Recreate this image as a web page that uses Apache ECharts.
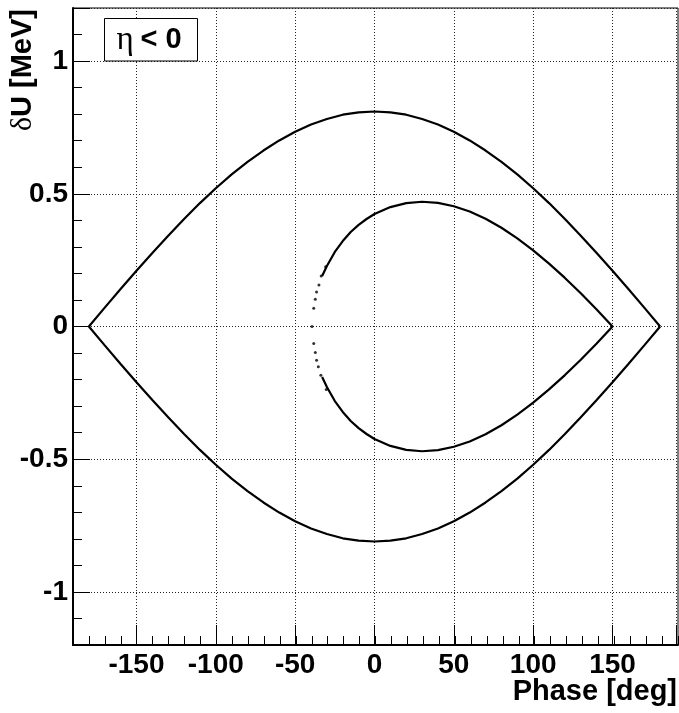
<!DOCTYPE html>
<html>
<head>
<meta charset="utf-8">
<script src="https://cdn.jsdelivr.net/npm/echarts@6/dist/echarts.min.js"></script>
<style>
html,body{margin:0;padding:0;background:#fff;}
#chart{width:679px;height:713px;}
</style>
</head>
<body>
<div id="chart"></div>
<script>
// ---- data ----
const outerPhase = [-180,-170,-160,-150,-140,-130,-120,-110,-100,-90,-80,-70,-60,-50,-40,-30,-20,-10,0,10,20,30,40,50,60,70,80,90,100,110,120,130,140,150,160,170,180];
const outerUpper = [0,0.071,0.141,0.21,0.277,0.342,0.405,0.465,0.521,0.573,0.62,0.663,0.701,0.734,0.761,0.782,0.798,0.807,0.81,0.807,0.798,0.782,0.761,0.734,0.701,0.663,0.62,0.573,0.521,0.465,0.405,0.342,0.277,0.21,0.141,0.071,0];
const outerLower = [0,-0.071,-0.141,-0.21,-0.277,-0.342,-0.405,-0.465,-0.521,-0.573,-0.62,-0.663,-0.701,-0.734,-0.761,-0.782,-0.798,-0.807,-0.81,-0.807,-0.798,-0.782,-0.761,-0.734,-0.701,-0.663,-0.62,-0.573,-0.521,-0.465,-0.405,-0.342,-0.277,-0.21,-0.141,-0.071,0];

const innerPhase = [-33,-30,-25,-20,-15,-10,-5,0,10,20,30,40,50,60,70,80,90,100,110,120,130,140,150];
const innerUpper = [0.19,0.228,0.281,0.322,0.356,0.383,0.405,0.424,0.45,0.465,0.47,0.466,0.453,0.433,0.406,0.372,0.332,0.287,0.237,0.183,0.125,0.064,0];
const innerLower = [-0.19,-0.228,-0.281,-0.322,-0.356,-0.383,-0.405,-0.424,-0.45,-0.465,-0.47,-0.466,-0.453,-0.433,-0.406,-0.372,-0.332,-0.287,-0.237,-0.183,-0.125,-0.064,0];

const tipPhase = [-30.8,-33.6,-35.0,-36.5,-37.3,-38.3,-39.4,-38.3,-37.3,-36.5,-35.4,-33.8,-30.4];
const tipU = [0.225,0.19,0.156,0.130,0.103,0.069,0,-0.064,-0.098,-0.127,-0.152,-0.184,-0.237];

const xMajorTicks = [-150,-100,-50,0,50,100,150];
const yMajorTicks = [-1,-0.5,0,0.5,1];

const xTitle = 'Phase [deg]';
const yTitleGreek = 'δ';
const yTitleRest = 'U [MeV]';
const legendGreek = 'η';
const legendRest = '< 0';

// ---- build ----
function zip(a, b) { return a.map((v, i) => [v, b[i]]); }

const FONT = 'Liberation Sans';
const grids = [
  {left:73, right:1, top:8, bottom:68, show:true, borderColor:'#000', borderWidth:1, backgroundColor:'transparent'},
  {left:73, right:1, top:8, bottom:68, show:false}
];

const chart = echarts.init(document.getElementById('chart'), null, {renderer:'canvas'});
const lineCommon = {type:'line', xAxisIndex:1, yAxisIndex:1, showSymbol:false, symbol:'none',
  lineStyle:{color:'#000', width:2.2}, z:5, animation:false};
const gridLine = {show:true, lineStyle:{color:'#222', width:1, type:[1,2]}};

chart.setOption({
  animation:false,
  backgroundColor:'#fff',
  grid: grids,
  xAxis: [
    {gridIndex:0, type:'value', min:-190, max:190, interval:10, position:'bottom',
      axisLine:{show:true, onZero:false, lineStyle:{color:'#000', width:2}},
      axisTick:{show:true, inside:true, length:9, lineStyle:{color:'#000', width:1}},
      axisLabel:{show:false}, splitLine:{show:false}},
    {gridIndex:1, type:'value', min:-190, max:190, splitNumber:8, position:'bottom',
      axisLine:{show:false, onZero:false},
      axisTick:{show:true, inside:true, length:20, lineStyle:{color:'#000', width:1}},
      axisLabel:{show:true, margin:6, color:'#000', fontFamily:FONT, fontWeight:'bold', fontSize:28,
        formatter: v => (xMajorTicks.indexOf(v) >= 0 ? String(v) : '')},
      splitLine: gridLine}
  ],
  yAxis: [
    {gridIndex:0, type:'value', min:-1.2, max:1.2, interval:0.1, position:'left',
      axisLine:{show:true, onZero:false, lineStyle:{color:'#000', width:2}},
      axisTick:{show:true, inside:true, length:9, lineStyle:{color:'#000', width:1}},
      axisLabel:{show:false}, splitLine:{show:false}},
    {gridIndex:1, type:'value', min:-1.2, max:1.2, splitNumber:5, position:'left',
      axisLine:{show:false, onZero:false},
      axisTick:{show:true, inside:true, length:17, lineStyle:{color:'#000', width:1}},
      axisLabel:{show:true, margin:5, color:'#000', fontFamily:FONT, fontWeight:'bold', fontSize:28,
        formatter: v => (yMajorTicks.indexOf(v) >= 0 ? String(v) : '')},
      splitLine: gridLine}
  ],
  series: [
    Object.assign({}, lineCommon, {name:'outer upper', data: zip(outerPhase, outerUpper)}),
    Object.assign({}, lineCommon, {name:'outer lower', data: zip(outerPhase, outerLower)}),
    Object.assign({}, lineCommon, {name:'inner upper', data: zip(innerPhase, innerUpper)}),
    Object.assign({}, lineCommon, {name:'inner lower', data: zip(innerPhase, innerLower)}),
    {type:'scatter', name:'inner tip', xAxisIndex:1, yAxisIndex:1, symbol:'circle', symbolSize:3,
      itemStyle:{color:'#000'}, data: zip(tipPhase, tipU), z:5, animation:false}
  ],
  graphic: [
    {type:'text', x:677, y:692, z:100, style:{text:xTitle, align:'right', verticalAlign:'middle',
      font:'bold 29px "Liberation Sans"', fill:'#000'}},
    {type:'text', x:23, y:9, rotation:Math.PI/2, z:100, style:{
      text:'{g|' + yTitleGreek + '}{b|' + yTitleRest + '}', align:'right', verticalAlign:'middle',
      rich:{g:{fontFamily:'Liberation Serif', fontSize:30, fill:'#000'},
            b:{fontFamily:FONT, fontWeight:'bold', fontSize:29, fill:'#000'}}}},
    {type:'rect', z:100, shape:{x:104.5, y:18.5, width:93, height:42.5},
      style:{fill:'#fff', stroke:'#000', lineWidth:1}},
    {type:'text', x:149, y:40, z:101, style:{
      text:'{g|' + legendGreek + '}{s| }{b|' + legendRest + '}', align:'center', verticalAlign:'middle',
      rich:{g:{fontFamily:'Liberation Serif', fontSize:33, fill:'#000'},
            s:{fontFamily:FONT, fontSize:24, fill:'#000'},
            b:{fontFamily:FONT, fontWeight:'bold', fontSize:29, fill:'#000'}}}}
  ]
});
</script>
</body>
</html>
